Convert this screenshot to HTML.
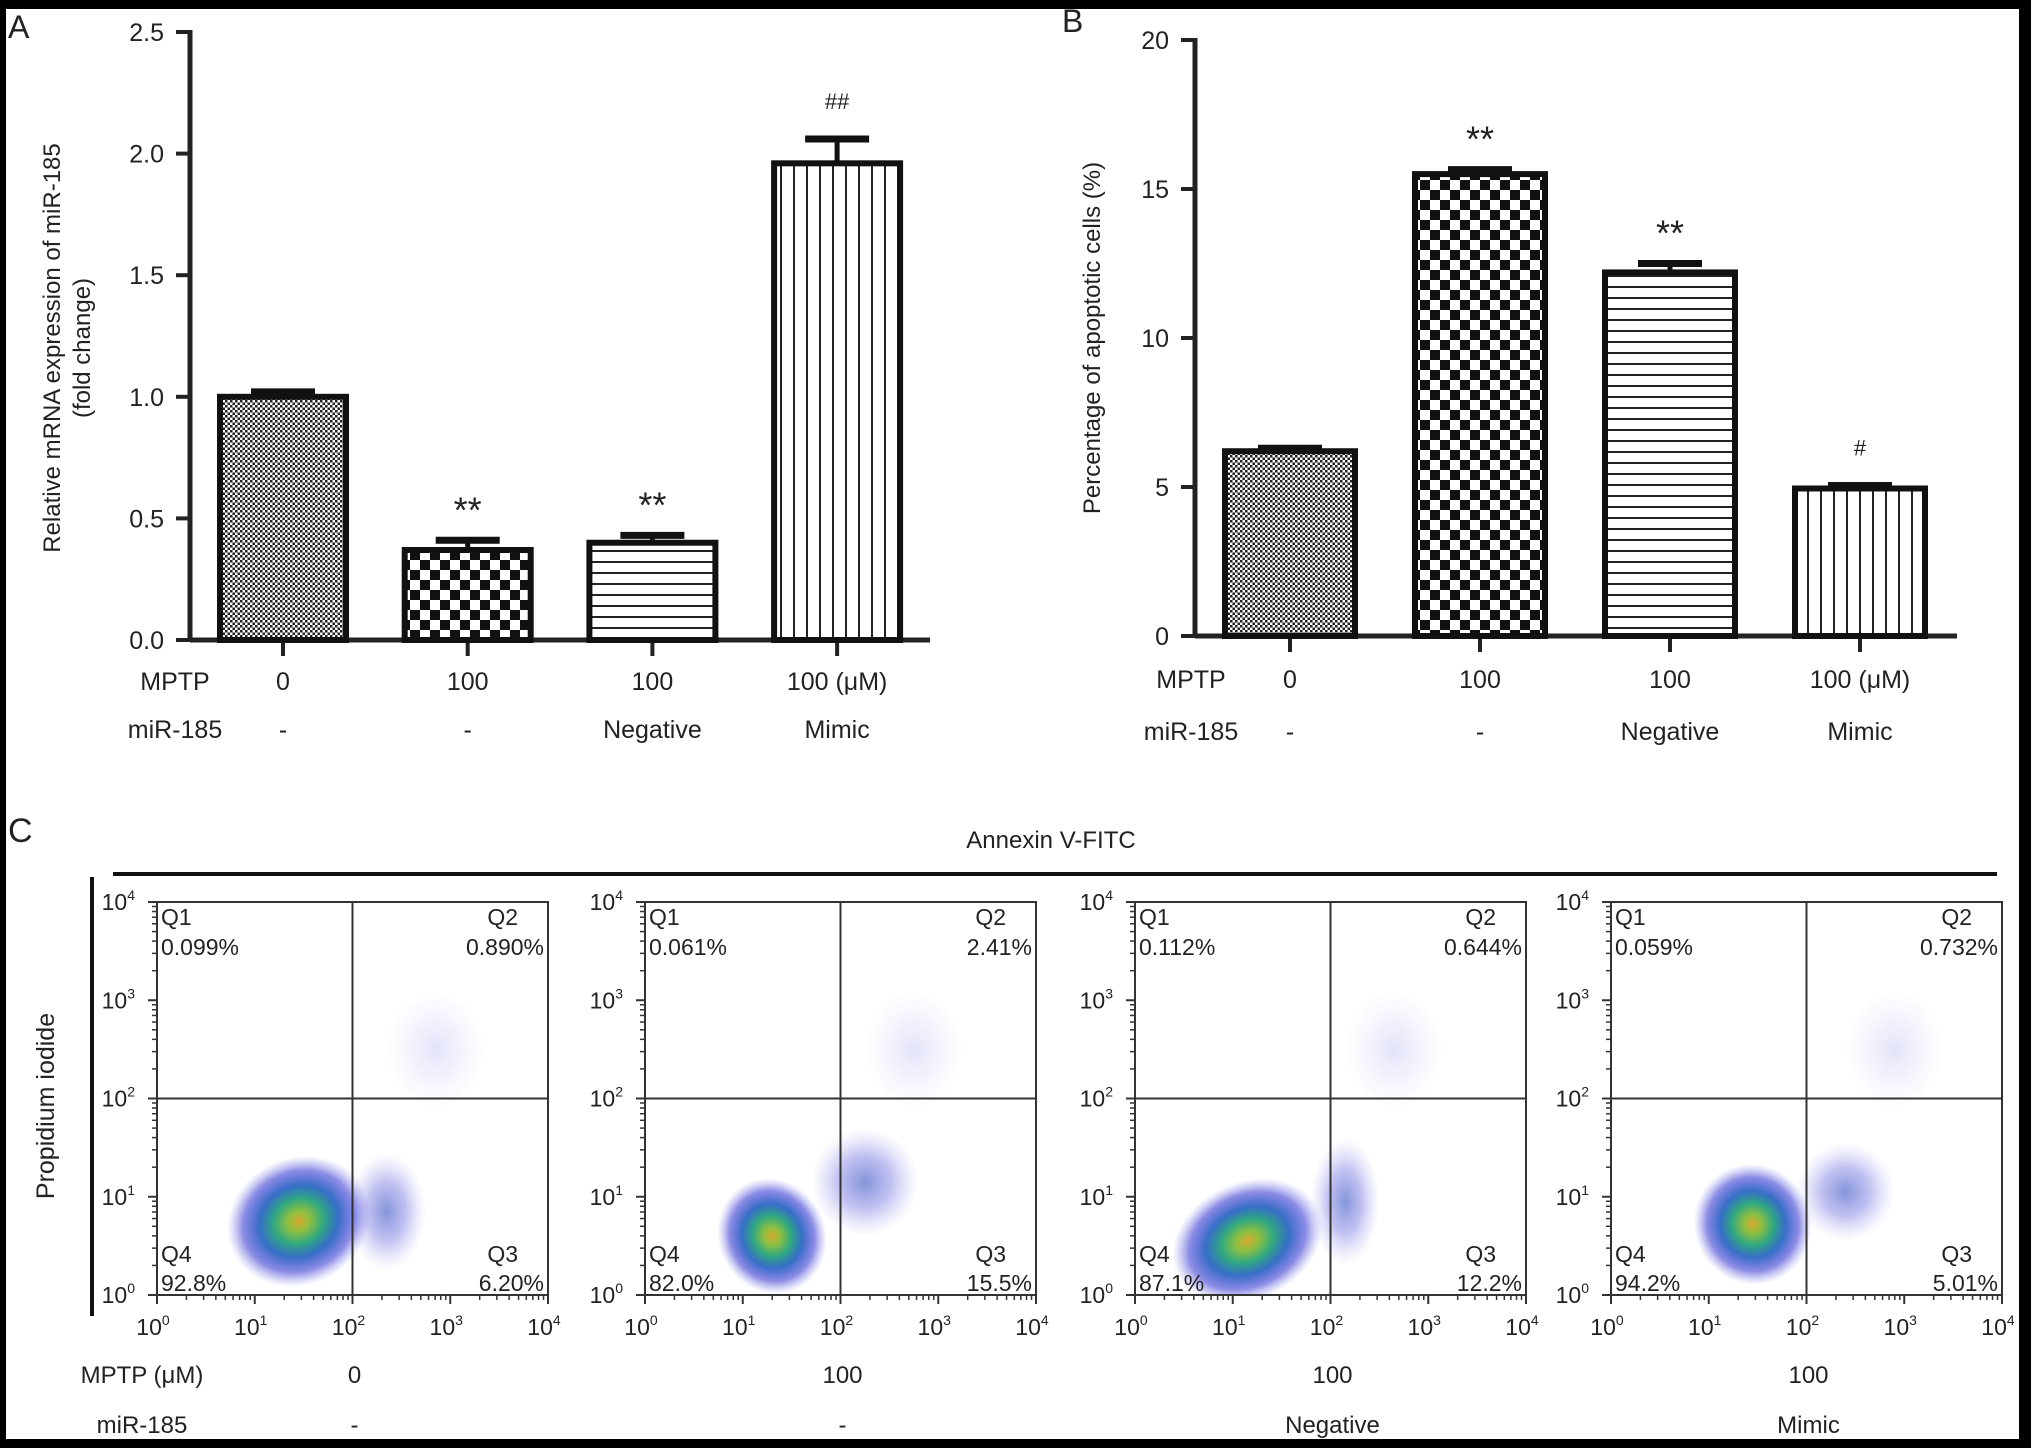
<!DOCTYPE html>
<html><head><meta charset="utf-8">
<style>
html,body{margin:0;padding:0;background:#fff;}
svg{display:block;}
text{font-family:"Liberation Sans",sans-serif;fill:#222;}
</style></head>
<body>
<svg id="fig" width="2031" height="1448" viewBox="0 0 2031 1448" xmlns="http://www.w3.org/2000/svg">
<defs>
  <pattern id="patDots" width="5" height="5" patternUnits="userSpaceOnUse">
    <rect width="5" height="5" fill="#fff"/><rect width="2.5" height="2.5" fill="#222"/><rect x="2.5" y="2.5" width="2.5" height="2.5" fill="#222"/>
  </pattern>
  <pattern id="patCheck" width="20" height="20" patternUnits="userSpaceOnUse">
    <rect width="20" height="20" fill="#fff"/><rect width="10" height="10" fill="#111"/><rect x="10" y="10" width="10" height="10" fill="#111"/>
  </pattern>
  <pattern id="patH" width="10" height="11" patternUnits="userSpaceOnUse">
    <rect width="10" height="11" fill="#fff"/><rect y="0" width="10" height="2" fill="#222"/>
  </pattern>
  <pattern id="patV" width="13" height="10" patternUnits="userSpaceOnUse">
    <rect width="13" height="10" fill="#fff"/><rect x="0" width="2" height="10" fill="#222"/>
  </pattern>
  <radialGradient id="gMain">
    <stop offset="0" stop-color="#d8a830"/>
    <stop offset="0.15" stop-color="#90c040"/>
    <stop offset="0.35" stop-color="#30a880"/>
    <stop offset="0.55" stop-color="#2060c0" stop-opacity="0.9"/>
    <stop offset="0.78" stop-color="#3030d0" stop-opacity="0.55"/>
    <stop offset="1" stop-color="#7070e8" stop-opacity="0"/>
  </radialGradient>
  <radialGradient id="gSec">
    <stop offset="0" stop-color="#3050c0" stop-opacity="0.6"/>
    <stop offset="0.5" stop-color="#5050d8" stop-opacity="0.35"/>
    <stop offset="1" stop-color="#9090f0" stop-opacity="0"/>
  </radialGradient>
  <radialGradient id="gSparse">
    <stop offset="0" stop-color="#8080e8" stop-opacity="0.22"/>
    <stop offset="1" stop-color="#a0a0f0" stop-opacity="0"/>
  </radialGradient>
</defs>
<rect x="0" y="0" width="2031" height="1448" fill="#fff"/>
<g id="layer"></g>
<rect x="0" y="0" width="2031" height="9" fill="#000"/>
<rect x="0" y="0" width="6" height="1448" fill="#000"/>
<rect x="2019" y="0" width="12" height="1448" fill="#000"/>
<rect x="0" y="1439" width="2031" height="9" fill="#000"/>
</svg>
<script>
// ---- Panel A data ----
const catsMPTP = ["0", "100", "100", "100 (\u03BCM)"];
const catsMiR = ["-", "-", "Negative", "Mimic"];
const valsA = [1.0, 0.37, 0.40, 1.96];
const errsA = [0.02, 0.04, 0.03, 0.10];
const marksA = ["", "**", "**", "##"];
const ticksA = [0, 0.5, 1.0, 1.5, 2.0, 2.5];
const tickLabelsA = ["0.0", "0.5", "1.0", "1.5", "2.0", "2.5"];
// ---- Panel B data ----
const valsB = [6.2, 15.5, 12.2, 4.95];
const errsB = [0.1, 0.15, 0.3, 0.1];
const marksB = ["", "**", "**", "#"];
const ticksB = [0, 5, 10, 15, 20];
const tickLabelsB = ["0", "5", "10", "15", "20"];
// ---- Panel C data ----
const flowMPTP = ["0", "100", "100", "100"];
const flowMiR = ["-", "-", "Negative", "Mimic"];
const q1 = ["0.099%", "0.061%", "0.112%", "0.059%"];
const q2 = ["0.890%", "2.41%", "0.644%", "0.732%"];
const q3 = ["6.20%", "15.5%", "12.2%", "5.01%"];
const q4 = ["92.8%", "82.0%", "87.1%", "94.2%"];
const mainX = [1.45, 1.3, 1.15, 1.45];
const mainY = [0.75, 0.6, 0.55, 0.72];
const mainRX = [0.75, 0.55, 0.8, 0.6];
const mainRY = [0.65, 0.6, 0.6, 0.62];
const secX = [2.35, 2.25, 2.15, 2.4];
const secY = [0.85, 1.15, 0.95, 1.05];
const secRX = [0.4, 0.55, 0.35, 0.5];
const secRY = [0.6, 0.55, 0.65, 0.5];

const NS = "http://www.w3.org/2000/svg";
const layer = document.getElementById("layer");
function mk(tag, attrs, parent, txt) {
  const e = document.createElementNS(NS, tag);
  for (const k in attrs) e.setAttribute(k, attrs[k]);
  if (txt !== undefined) e.textContent = txt;
  (parent || layer).appendChild(e);
  return e;
}

const pats = ["url(#patDots)", "url(#patCheck)", "url(#patH)", "url(#patV)"];

function barPanel(cfg, vals, errs, marks, ticks, tickLabels, key) {
  const g = mk("g", {});
  
  
  const y = v => cfg.y0 - (v - 0) / cfg.max * (cfg.y0 - cfg.yTop);
  const ya = mk("line", {x1: cfg.ax, y1: y(cfg.max) - 2, x2: cfg.ax, y2: cfg.y0, stroke: "#222", "stroke-width": 5}, g);
  
  
  const xa = mk("line", {x1: cfg.ax, y1: cfg.y0, x2: cfg.xEnd, y2: cfg.y0, stroke: "#222", "stroke-width": 5}, g);
  
  
  ticks.forEach((t, i) => {
    const tk = mk("line", {x1: cfg.ax - 14, y1: y(t), x2: cfg.ax, y2: y(t), stroke: "#222", "stroke-width": 4}, g);
    
    
    const tl = mk("text", {x: cfg.ax - 26, y: y(t) + 9, "font-size": 25, "text-anchor": "end"}, g, tickLabels[i]);
    
    
  });
  const bw = cfg.bw;
  vals.forEach((v, i) => {
    const cx = cfg.x0 + i * cfg.step;
    const tk = mk("line", {x1: cx, y1: cfg.y0, x2: cx, y2: cfg.y0 + 16, stroke: "#222", "stroke-width": 4}, g);
    
    
    const eb = mk("line", {x1: cx, y1: y(v), x2: cx, y2: y(v + errs[i]), stroke: "#111", "stroke-width": 5}, g);
    
    
    const cap = mk("line", {x1: cx - 32, y1: y(v + errs[i]), x2: cx + 32, y2: y(v + errs[i]), stroke: "#111", "stroke-width": 7}, g);
    
    
    const r = mk("rect", {x: cx - bw / 2, y: y(v), width: bw, height: cfg.y0 - y(v), fill: pats[i], stroke: "#111", "stroke-width": 6}, g);
    
    
    if (marks[i]) {
      const big = marks[i].indexOf("*") >= 0;
      const m = mk("text", {x: cx, y: y(v + errs[i]) - (big ? 18 : 30), "font-size": big ? 36 : 22, "text-anchor": "middle"}, g, marks[i]);
      
      
    }
    const l1 = mk("text", {x: cx, y: cfg.rowA, "font-size": 25, "text-anchor": "middle"}, g, catsMPTP[i]);
    
    
    const l2 = mk("text", {x: cx, y: cfg.rowB, "font-size": 25, "text-anchor": "middle"}, g, catsMiR[i]);
    
    
  });
  const r1 = mk("text", {x: cfg.rowLabelX, y: cfg.rowA, "font-size": 25, "text-anchor": "middle"}, g, "MPTP");
  
  
  const r2 = mk("text", {x: cfg.rowLabelX, y: cfg.rowB, "font-size": 25, "text-anchor": "middle"}, g, "miR-185");
  
  
  return g;
}

barPanel({ax: 190, xEnd: 930, y0: 640, yTop: 32, max: 2.5, x0: 283, step: 184.7, bw: 126, rowA: 690, rowB: 738, rowLabelX: 175},
  valsA, errsA, marksA, ticksA, tickLabelsA, "panel-a");
barPanel({ax: 1195, xEnd: 1957, y0: 636, yTop: 40, max: 20, x0: 1290, step: 190, bw: 130, rowA: 688, rowB: 740, rowLabelX: 1191},
  valsB, errsB, marksB, ticksB, tickLabelsB, "panel-b");

let t;
t = mk("text", {x: 0, y: 0, "font-size": 24, "text-anchor": "middle", transform: "translate(60,348) rotate(-90)"}, layer, "Relative mRNA expression of miR-185");


t = mk("text", {x: 0, y: 0, "font-size": 24, "text-anchor": "middle", transform: "translate(90,348) rotate(-90)"}, layer, "(fold change)");


t = mk("text", {x: 0, y: 0, "font-size": 24, "text-anchor": "middle", transform: "translate(1100,338) rotate(-90)"}, layer, "Percentage of apoptotic cells (%)");


t = mk("text", {x: 8, y: 38, "font-size": 32}, layer, "A");


t = mk("text", {x: 1062, y: 32, "font-size": 32}, layer, "B");


t = mk("text", {x: 8, y: 842, "font-size": 34}, layer, "C");



t = mk("text", {x: 1051, y: 848, "font-size": 24, "text-anchor": "middle"}, layer, "Annexin V-FITC");


t = mk("line", {x1: 113, y1: 874, x2: 1997, y2: 874, stroke: "#111", "stroke-width": 4});


t = mk("line", {x1: 92, y1: 877, x2: 92, y2: 1316, stroke: "#111", "stroke-width": 4});


t = mk("text", {x: 0, y: 0, "font-size": 25, "text-anchor": "middle", transform: "translate(54,1106) rotate(-90)"}, layer, "Propidium iodide");


t = mk("text", {x: 142, y: 1383, "font-size": 24, "text-anchor": "middle"}, layer, "MPTP (\u03BCM)");


t = mk("text", {x: 142, y: 1433, "font-size": 24, "text-anchor": "middle"}, layer, "miR-185");



const plotX = [157, 645, 1135, 1611];
const plotW = 391, plotTop = 902, plotBot = 1295;

flowMPTP.forEach((m, i) => {
  const x0 = plotX[i];
  const sx = v => x0 + v / 4 * plotW;
  const sy = v => plotBot - v / 4 * (plotBot - plotTop);
  const g = mk("g", {});
  
  
  const clip = "clip" + i;
  const cp = mk("clipPath", {id: clip}, g);
  mk("rect", {x: x0, y: plotTop, width: plotW, height: plotBot - plotTop}, cp);
  const cg = mk("g", {"clip-path": "url(#" + clip + ")"}, g);
  let e = mk("ellipse", {cx: sx(secX[i]), cy: sy(secY[i]), rx: secRX[i] * plotW / 4, ry: secRY[i] * (plotBot - plotTop) / 4, fill: "url(#gSec)"}, cg);
  
  
  e = mk("ellipse", {cx: sx(mainX[i]), cy: sy(mainY[i]), rx: mainRX[i] * plotW / 4, ry: mainRY[i] * (plotBot - plotTop) / 4, fill: "url(#gMain)", transform: "rotate(-25 " + sx(mainX[i]) + " " + sy(mainY[i]) + ")"}, cg);
  
  
  e = mk("ellipse", {cx: sx(secX[i] + 0.5), cy: sy(2.5), rx: 0.5 * plotW / 4, ry: 0.6 * (plotBot - plotTop) / 4, fill: "url(#gSparse)"}, cg);
  
  
  e = mk("rect", {x: x0, y: plotTop, width: plotW, height: plotBot - plotTop, fill: "none", stroke: "#333", "stroke-width": 2}, g);
  
  
  e = mk("line", {x1: sx(2), y1: plotTop, x2: sx(2), y2: plotBot, stroke: "#333", "stroke-width": 2}, g);
  
  
  e = mk("line", {x1: x0, y1: sy(2), x2: x0 + plotW, y2: sy(2), stroke: "#333", "stroke-width": 2}, g);
  
  
  for (let d = 0; d <= 4; d++) {
    e = mk("line", {x1: sx(d), y1: plotBot, x2: sx(d), y2: plotBot + 9, stroke: "#333", "stroke-width": 2}, g);
    
    
    e = mk("line", {x1: x0 - 9, y1: sy(d), x2: x0, y2: sy(d), stroke: "#333", "stroke-width": 2}, g);
    
    
    const xl = mk("text", {x: sx(d) - 4, y: 1335, "font-size": 23, "text-anchor": "middle"}, g);
    
    
    mk("tspan", {}, xl, "10");
    mk("tspan", {dy: -10, "font-size": 14}, xl, String(d));
    const yl = mk("text", {x: x0 - 22, y: sy(d) + 8, "font-size": 23, "text-anchor": "end"}, g);
    
    
    mk("tspan", {}, yl, "10");
    mk("tspan", {dy: -10, "font-size": 14}, yl, String(d));
    if (d < 4) for (let k = 2; k < 10; k++) {
      const lv = d + Math.log10(k);
      e = mk("line", {x1: sx(lv), y1: plotBot, x2: sx(lv), y2: plotBot + 5, stroke: "#333", "stroke-width": 1.5}, g);
      
      
      e = mk("line", {x1: x0 - 5, y1: sy(lv), x2: x0, y2: sy(lv), stroke: "#333", "stroke-width": 1.5}, g);
      
      
    }
  }
  const fs = 23;
  e = mk("text", {x: x0 + 4, y: 925, "font-size": fs}, g, "Q1");
   
  e = mk("text", {x: x0 + 4, y: 955, "font-size": fs}, g, q1[i]);
   
  e = mk("text", {x: x0 + plotW - 30, y: 925, "font-size": fs, "text-anchor": "end"}, g, "Q2");
   
  e = mk("text", {x: x0 + plotW - 4, y: 955, "font-size": fs, "text-anchor": "end"}, g, q2[i]);
   
  e = mk("text", {x: x0 + 4, y: 1262, "font-size": fs}, g, "Q4");
   
  e = mk("text", {x: x0 + 4, y: 1291, "font-size": fs}, g, q4[i]);
   
  e = mk("text", {x: x0 + plotW - 30, y: 1262, "font-size": fs, "text-anchor": "end"}, g, "Q3");
   
  e = mk("text", {x: x0 + plotW - 4, y: 1291, "font-size": fs, "text-anchor": "end"}, g, q3[i]);
   
  e = mk("text", {x: sx(2) + 2, y: 1383, "font-size": 24, "text-anchor": "middle"}, g, m);
   
  e = mk("text", {x: sx(2) + 2, y: 1433, "font-size": 24, "text-anchor": "middle"}, g, flowMiR[i]);
   
});
</script>
</body></html>
